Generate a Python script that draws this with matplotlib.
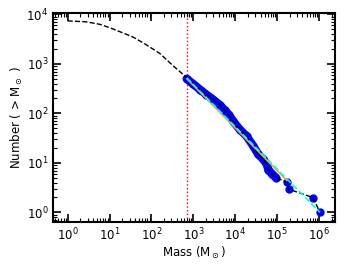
import numpy as np
import matplotlib
matplotlib.use('Agg')
import matplotlib.pyplot as plt

## cumulative curve below the completeness limit (log10 M, log10 N)
curve_logm = [0.0, 0.45, 0.77, 1.01, 1.25, 1.57, 1.89, 2.20, 2.52, 2.82]
curve_logn = [3.87, 3.85, 3.80, 3.73, 3.65, 3.54, 3.38, 3.21, 2.96, 2.74]

## clumps above the limit (log10 M, log10 N)
data_logm = [2.84, 3.00, 3.16, 3.31, 3.47, 3.63, 3.75, 3.85, 3.95, 4.11, 4.27,
             4.43, 4.55, 4.67, 4.75, 4.79, 4.87, 4.97, 5.24, 5.27, 5.85, 6.02]
data_logn = [2.70, 2.59, 2.48, 2.38, 2.28, 2.17, 2.06, 1.97, 1.84, 1.67, 1.54,
             1.34, 1.17, 1.07, 0.97, 0.86, 0.78, 0.70, 0.61, 0.47, 0.30, 0.0]

## power-law fits (end points)
fit1_m = [700, 1.7e5]
fit1_n = [500, 4.4]
fit2_m = [700, 1.05e6]
fit2_n = [520, 1.0]

m_limit = 700

curve_m = 10 ** np.array(curve_logm)
curve_n = 10 ** np.array(curve_logn)
data_m = 10 ** np.array(data_logm)
data_n = 10 ** np.array(data_logn)

plt.rcParams['font.family'] = 'DejaVu Sans'
fig = plt.figure(figsize=(3.52, 2.64), dpi=100)
ax = fig.add_axes([0.151, 0.159, 0.801, 0.792])

ax.plot(data_m[:18], data_n[:18], '-', color='blue', lw=6, solid_capstyle='round', zorder=2)
ax.plot(data_m, data_n, 'o', color='blue', ms=5, zorder=2)
ax.plot(np.concatenate([curve_m, data_m]), np.concatenate([curve_n, data_n]),
        '--', color='black', lw=1, zorder=3)
ax.plot(fit1_m, fit1_n, '-', color='orange', lw=1.2, zorder=4)
ax.plot(fit2_m, fit2_n, '--', color='cyan', lw=1.2, zorder=5)
ax.axvline(m_limit, color='red', ls=':', lw=1, zorder=1)

ax.set_xscale('log')
ax.set_yscale('log')
ax.set_xlim(10 ** -0.344, 10 ** 6.38)
ax.set_ylim(10 ** -0.195, 10 ** 4.03)
ax.set_xticks([1, 10, 100, 1e3, 1e4, 1e5, 1e6])
ax.set_yticks([1, 10, 100, 1e3, 1e4])
ax.tick_params(which='both', direction='in', top=True, right=True, labelsize=8.5)
ax.tick_params(which='major', length=6, width=1.2)
ax.tick_params(which='minor', length=3, width=0.8)
for s in ax.spines.values():
    s.set_linewidth(1.5)

ax.set_xlabel(r'Mass (M$_\odot$)', fontsize=8.5, labelpad=1)
ax.set_ylabel(r'Number ( > M$_\odot$ )', fontsize=8.5, labelpad=1)

fig.savefig('out.png', dpi=100)
